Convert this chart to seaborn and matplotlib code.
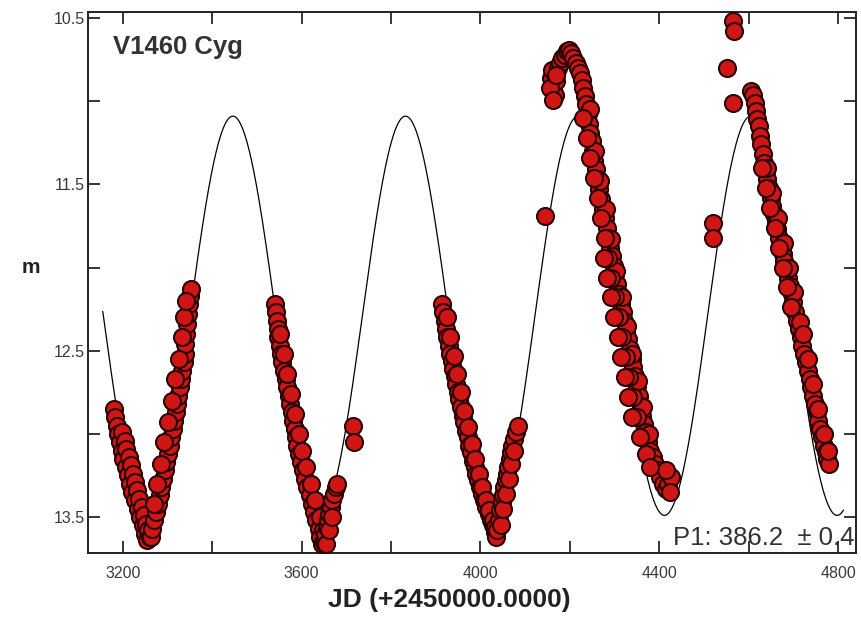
import numpy as np
import pandas as pd
import seaborn as sns
import matplotlib.pyplot as plt
from matplotlib.ticker import FixedLocator

sns.set_style('ticks')
plt.rcParams['font.family'] = ['Liberation Sans', 'DejaVu Sans']

jd_c1 = [3180, 3183, 3186, 3189, 3193, 3197, 3201, 3206, 3211, 3216, 3221, 3227, 3233, 3239, 3245, 3250, 3254,
         3199, 3204, 3208, 3213, 3218, 3222, 3227, 3232, 3237, 3242, 3247, 3252, 3257, 3260,
         3262, 3266, 3270, 3274, 3278, 3282, 3286, 3290, 3294, 3297, 3301, 3305, 3308, 3312, 3315,
         3318, 3321, 3324, 3327, 3330, 3333, 3336, 3338, 3340, 3342, 3344, 3346, 3348, 3350, 3352,
         3270, 3277, 3285, 3293, 3301, 3309, 3317, 3325, 3332, 3337, 3342]
mag_c1 = [12.85, 12.90, 12.95, 13.00, 13.05, 13.10, 13.15, 13.20, 13.25, 13.30, 13.35, 13.40, 13.45, 13.50, 13.55, 13.60, 13.64,
          12.99, 13.04, 13.09, 13.14, 13.19, 13.24, 13.29, 13.34, 13.39, 13.44, 13.49, 13.54, 13.58, 13.62,
          13.62, 13.57, 13.52, 13.47, 13.42, 13.37, 13.32, 13.27, 13.22, 13.17, 13.12, 13.07, 13.02, 12.97, 12.92,
          12.87, 12.82, 12.77, 12.72, 12.67, 12.62, 12.57, 12.52, 12.46, 12.40, 12.34, 12.28, 12.22, 12.17, 12.13,
          13.42, 13.30, 13.18, 13.05, 12.93, 12.80, 12.67, 12.55, 12.42, 12.30, 12.20]

jd_c2 = [3540, 3542, 3544, 3546, 3548, 3551, 3554, 3557, 3561, 3564, 3567, 3571, 3574, 3578, 3581,
         3584, 3587, 3590, 3594, 3598, 3603, 3608, 3613, 3618, 3623, 3628, 3633, 3638, 3642, 3646,
         3552, 3560, 3568, 3577, 3586, 3594, 3601, 3610, 3620, 3630, 3640, 3648,
         3650, 3653, 3656, 3659, 3662, 3665, 3668, 3672, 3676, 3679, 3655, 3662, 3668,
         3715, 3716]
mag_c2 = [12.22, 12.27, 12.32, 12.37, 12.42, 12.47, 12.52, 12.57, 12.62, 12.67, 12.72, 12.77, 12.82, 12.87, 12.92,
          12.97, 13.02, 13.07, 13.12, 13.17, 13.22, 13.27, 13.32, 13.37, 13.42, 13.47, 13.52, 13.57, 13.62, 13.66,
          12.40, 12.52, 12.64, 12.76, 12.88, 13.00, 13.10, 13.20, 13.30, 13.40, 13.50, 13.58,
          13.65, 13.60, 13.56, 13.52, 13.48, 13.44, 13.40, 13.36, 13.32, 13.30, 13.66, 13.58, 13.50,
          12.95, 13.05]

jd_c3 = [3914, 3917, 3920, 3923, 3926, 3929, 3932, 3936, 3939, 3942, 3946, 3949, 3953, 3957,
         3960, 3964, 3967, 3971, 3975, 3979, 3983, 3987, 3991, 3995, 3999, 4003, 4008, 4013,
         4018, 4023, 4028, 4032, 4035,
         3924, 3932, 3940, 3948, 3956, 3964, 3972, 3980, 3988, 3996, 4004, 4012, 4020, 4027, 4033,
         4038, 4041, 4044, 4047, 4050, 4053, 4056, 4059, 4062, 4065, 4068, 4071, 4075, 4079, 4083,
         4045, 4051, 4057, 4063, 4069, 4075]
mag_c3 = [12.22, 12.27, 12.32, 12.37, 12.42, 12.47, 12.52, 12.56, 12.61, 12.65, 12.70, 12.75, 12.79, 12.84,
          12.89, 12.93, 12.98, 13.02, 13.07, 13.11, 13.16, 13.20, 13.24, 13.28, 13.32, 13.36, 13.40, 13.44,
          13.48, 13.52, 13.55, 13.59, 13.62,
          12.30, 12.42, 12.53, 12.64, 12.75, 12.86, 12.96, 13.06, 13.15, 13.24, 13.32, 13.40, 13.46, 13.52, 13.56,
          13.58, 13.52, 13.46, 13.41, 13.37, 13.32, 13.28, 13.24, 13.20, 13.15, 13.11, 13.07, 13.03, 12.99, 12.95,
          13.55, 13.45, 13.36, 13.27, 13.18, 13.10]

jd_c4 = [4145,
         4158, 4160, 4163, 4166, 4170, 4174, 4178, 4183, 4188, 4193, 4198, 4203, 4208, 4213,
         4218, 4222, 4226, 4230, 4234,
         4237, 4240, 4242, 4246, 4249, 4252, 4254, 4258, 4262, 4266, 4270, 4274, 4278, 4282,
         4286, 4290, 4294, 4298, 4302, 4306, 4310, 4314, 4318, 4322, 4326, 4330, 4334, 4338,
         4342, 4346, 4350, 4354, 4358, 4362, 4366, 4370, 4375, 4380, 4385, 4390, 4396, 4402,
         4408, 4414, 4420, 4426, 4416, 4424,
         4244, 4256, 4268, 4280, 4292, 4304, 4316, 4328, 4340, 4352, 4364, 4376,
         4230, 4238, 4246, 4254, 4262, 4270, 4278, 4286, 4293, 4301, 4309, 4317, 4325, 4333,
         4341, 4349, 4357, 4370, 4380,
         4276, 4283, 4291, 4299, 4307, 4315, 4323, 4331, 4339,
         4155, 4162, 4168]
mag_c4 = [11.69,
          10.86, 10.81, 10.92, 10.96, 10.88, 10.80, 10.77, 10.74, 10.72, 10.70, 10.69, 10.71, 10.74, 10.77,
          10.80, 10.83, 10.87, 10.92, 10.97,
          11.02, 11.08, 11.14, 11.19, 11.24, 11.30, 11.36, 11.41, 11.47, 11.53, 11.59, 11.65, 11.70, 11.76,
          11.82, 11.88, 11.93, 11.99, 12.04, 12.10, 12.16, 12.22, 12.27, 12.32, 12.38, 12.43, 12.49, 12.55,
          12.60, 12.65, 12.71, 12.77, 12.83, 12.89, 12.94, 12.99, 13.05, 13.10, 13.14, 13.18, 13.22, 13.26,
          13.30, 13.33, 13.30, 13.26, 13.22, 13.35,
          11.05, 11.30, 11.48, 11.65, 11.83, 12.02, 12.18, 12.35, 12.52, 12.68, 12.84, 13.00,
          11.10, 11.22, 11.34, 11.46, 11.58, 11.70, 11.82, 11.94, 12.06, 12.18, 12.30, 12.42, 12.54, 12.66,
          12.78, 12.90, 13.02, 13.12, 13.20,
          11.94, 12.06, 12.18, 12.30, 12.42, 12.54, 12.66, 12.78, 12.90,
          10.92, 10.99, 10.84]

jd_c5 = [4519, 4520, 4565, 4566, 4552, 4565,
         4606, 4610, 4613, 4616, 4619, 4622, 4625, 4628, 4631, 4635, 4638, 4642, 4645, 4649,
         4652, 4656, 4660, 4664, 4668, 4672, 4676, 4680, 4684, 4688, 4692, 4696, 4700, 4704,
         4708, 4712, 4716, 4720, 4724, 4728, 4732, 4736, 4740, 4744, 4748, 4752, 4756, 4760,
         4764, 4768, 4772, 4776, 4780,
         4640, 4652, 4665, 4678, 4690, 4702, 4715,
         4630, 4639, 4648, 4658, 4667, 4676, 4685, 4694,
         4722, 4732, 4744, 4756, 4768, 4778]
mag_c5 = [11.73, 11.82, 10.52, 10.58, 10.80, 11.01,
          10.94, 10.96, 11.01, 11.06, 11.11, 11.15, 11.21, 11.26, 11.32, 11.37, 11.42, 11.47, 11.52, 11.58,
          11.63, 11.68, 11.72, 11.77, 11.82, 11.87, 11.92, 11.96, 12.01, 12.06, 12.11, 12.16, 12.21, 12.27,
          12.32, 12.37, 12.42, 12.47, 12.52, 12.57, 12.62, 12.67, 12.72, 12.77, 12.82, 12.87, 12.92, 12.97,
          13.02, 13.07, 13.11, 13.15, 13.18,
          11.40, 11.55, 11.70, 11.85, 12.00, 12.15, 12.33,
          11.40, 11.52, 11.64, 11.76, 11.88, 12.00, 12.12, 12.24,
          12.40, 12.55, 12.70, 12.85, 13.00, 13.10]

# sine fit shown on the chart (P1 = 386.2 d)
period = 386.2
t_max = 3446.0
mean_mag = 12.29
amplitude = 1.2
fit_start, fit_end = 3155, 4812

obs = pd.DataFrame({'jd': jd_c1 + jd_c2 + jd_c3 + jd_c4 + jd_c5,
                    'mag': mag_c1 + mag_c2 + mag_c3 + mag_c4 + mag_c5})
t = np.arange(fit_start, fit_end + 1, 1.0)
fit = pd.DataFrame({'jd': t, 'mag': mean_mag - amplitude * np.cos(2 * np.pi * (t - t_max) / period)})

fig = plt.figure(figsize=(8.62, 6.2), dpi=100)
ax = fig.add_axes([88 / 862, 1 - 553 / 620, 768 / 862, 541 / 620])

sns.lineplot(data=fit, x='jd', y='mag', color='black', lw=0.9, sort=False, estimator=None, ax=ax)
sns.scatterplot(data=obs, x='jd', y='mag', s=150, color='#d01515', edgecolor='#2a0303',
                linewidth=1.5, ax=ax, zorder=3)

ax.set_xlim(3122, 4840)
ax.set_ylim(13.716, 10.464)

ax.xaxis.set_major_locator(FixedLocator([3200, 3600, 4000, 4400, 4800]))
ax.xaxis.set_minor_locator(FixedLocator([3400, 3800, 4200, 4600]))
ax.yaxis.set_major_locator(FixedLocator([10.5, 11.5, 12.5, 13.5]))
ax.yaxis.set_minor_locator(FixedLocator([11.0, 12.0, 13.0]))
ax.yaxis.set_major_formatter(plt.FuncFormatter(lambda v, p: f'{v:.1f}'))
ax.tick_params(which='both', direction='in', length=8.5, width=1.3, top=True, right=True,
               labelsize=11.5, labelcolor='#3a3a3a')
ax.tick_params(axis='x', pad=9)
ax.tick_params(axis='y', pad=2)
for sp in ax.spines.values():
    sp.set_linewidth(1.4)
    sp.set_color('#222222')

ax.set_xlabel('JD (+2450000.0000)', fontsize=19, fontweight='bold', color='#222222', va='top')
ax.xaxis.set_label_coords(0.471, -0.064)
ax.set_ylabel('m', fontsize=15, fontweight='bold', rotation=0, color='#222222', va='center')
ax.yaxis.set_label_coords(-0.075, 0.527)

ax.text(0.033, 0.958, 'V1460 Cyg', transform=ax.transAxes, fontsize=18.5, fontweight='bold',
        color='#333333', va='top', ha='left')
ax.text(0.998, 0.015, 'P1: 386.2  \u00b1 0.4', transform=ax.transAxes, fontsize=18.5,
        color='#333333', va='baseline', ha='right')

fig.savefig('out.png', dpi=100)
